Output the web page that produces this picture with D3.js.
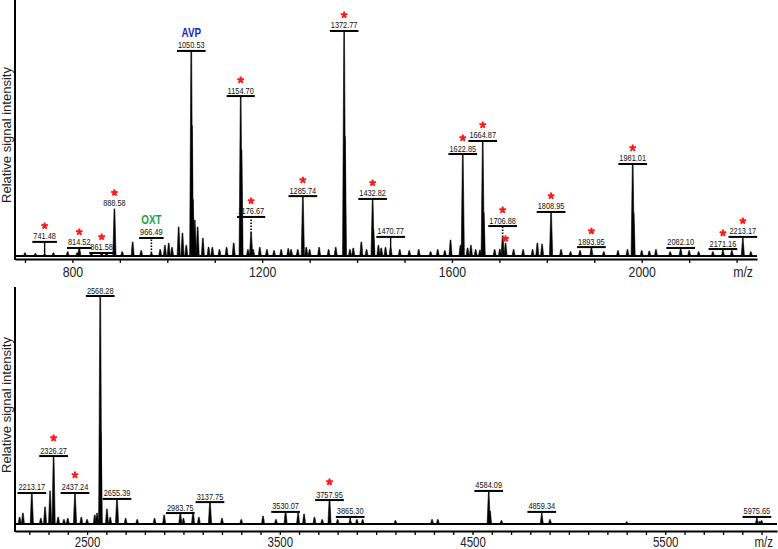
<!DOCTYPE html>
<html>
<head>
<meta charset="utf-8">
<script src="https://cdn.jsdelivr.net/npm/d3@7"></script>
<style>
  body { margin: 0; background: #fff; }
  svg { display: block; }
  text { font-family: "Liberation Sans", Arial, sans-serif; }
</style>
</head>
<body>
<div id="chart"></div>
<script>
// ---- top spectrum (m/z 700-2200) ----
const topLabelText = ['741.48', '814.52', '861.58', '888.58', '966.49', '1050.53', '1154.70', '1176.67',
  '1285.74', '1372.77', '1432.82', '1470.77', '1622.85', '1664.87', '1706.88', '1808.95',
  '1893.95', '1981.01', '2082.10', '2171.16', '2213.17'];
const topLabelPeak = [1, 3.7, 1.4, 21.2, 1.4, 94.5, 72.4, 10.6, 26.7, 100, 25.3, 4.1, 46, 50.7, 8.8, 19.8,
  3.7, 42, 3.2, 2.3, 7.4];
const topLabelLevel = [6.5, 3.7, 1.4, 21.8, 8.3, 94.5, 73.7, 18, 27.6, 103.7, 26.3, 8.8, 47, 53, 13.8, 20.3,
  4.1, 42.4, 3.7, 3.2, 8.8];
const topStarred = ['741.48', '814.52', '861.58', '888.58', '1154.70', '1176.67', '1285.74', '1372.77',
  '1432.82', '1622.85', '1664.87', '1706.88', '1808.95', '1893.95', '1981.01', '2171.16', '2213.17'];
const topDotted = ['966.49', '1176.67', '1706.88'];
const topNoBar = ['888.58'];
const topLoneStarMz = [1713];
const topLoneStarLevel = [8];
const topNames = ['AVP', 'OXT'];
const topNameMz = ['1050.53', '966.49'];
const topNameColor = ['#1c1cc9', '#17a34a'];
const topMinorMz = [700, 722, 760, 790, 810, 840, 872, 905, 927, 945, 985, 995, 1003, 1010, 1024, 1032,
  1040, 1052, 1054, 1058, 1064, 1075, 1087, 1095, 1110, 1125, 1140, 1156.5, 1170, 1181, 1195, 1210, 1225,
  1240, 1255, 1261, 1275, 1293, 1300, 1320, 1340, 1355, 1374.5, 1385, 1392, 1409, 1420, 1434.5, 1445, 1451,
  1460, 1490, 1510, 1530, 1555, 1570, 1585, 1597, 1618, 1633, 1640, 1650, 1659, 1667, 1690, 1701, 1713,
  1730, 1750, 1770, 1780, 1790, 1830, 1850, 1870, 1920, 1950, 1970, 1983, 2000, 2016, 2030, 2060, 2100,
  2120, 2150, 2190, 2230];
const topMinorIntensity = [1.5, 1.2, 1.5, 2, 1.5, 1.5, 1.5, 2, 6.5, 2.5, 3, 5, 6, 4, 13.4, 10.6,
  5, 60, 26, 16.6, 13.4, 8.3, 4.1, 4, 3, 4, 6, 49, 3, 3, 4, 3, 2.5,
  3, 3.5, 3, 3, 4, 3, 4, 3, 4, 55, 3, 3.7, 6.5, 3, 12, 5, 3.7,
  4, 3, 2.5, 3, 2, 3, 2.5, 7.4, 5, 3.7, 5, 3, 2.8, 20, 3, 3.2, 6,
  3, 3, 3, 6, 5.5, 3, 2, 2.5, 2, 2.5, 3, 20, 2.5, 2.3, 3, 2, 2.5,
  2, 2, 2.5, 2];
const topTickLabels = [800, 1200, 1600, 2000];

// ---- bottom spectrum (m/z 2200-6000) ----
const botLabelText = ['2213.17', '2326.27', '2437.24', '2568.28', '2655.39', '2983.75', '3137.75',
  '3530.07', '3757.95', '3865.30', '4584.09', '4859.34', '5975.65'];
const botLabelPeak = [13.2, 29.5, 13, 100, 11, 4.5, 9.6, 5.3, 10.5, 1.8, 13.2, 4, 2.2];
const botLabelLevel = [13.6, 29.8, 13.6, 100, 11, 4.8, 9.6, 5.3, 10.5, 3.1, 14.5, 5.3, 3.1];
const botStarred = ['2326.27', '2437.24', '3757.95'];
const botMinorMz = [2150, 2167, 2260, 2282, 2308, 2350, 2380, 2400, 2470, 2500, 2540, 2552, 2571, 2603,
  2620, 2700, 2760, 2850, 2900, 3000, 3050, 3080, 3200, 3300, 3413, 3480, 3595, 3626, 3680, 3720, 3800,
  3900, 3930, 4100, 4290, 4320, 4591, 4650, 4902, 5300, 5990, 6000];
const botMinorIntensity = [3, 4.8, 2.5, 7.5, 14.5, 3, 2, 2.5, 3, 2, 4, 4.8, 40, 6.6,
  3, 2.5, 2, 2.5, 4, 2.5, 5.3, 3, 2.5, 2, 3.5, 2, 4.8, 4.4, 3, 2, 2,
  2, 2, 1.5, 2, 2, 5.7, 1.5, 2, 1, 1.2, 1.5];
const botTickLabels = [2500, 3500, 4500, 5500];

const WIDTH = 778;
const HEIGHT = 549;
const NARROW = 0.82; // the figure uses a narrow face

const svg = d3.select('#chart')
  .append('svg')
  .attr('width', WIDTH)
  .attr('height', HEIGHT);

// squeeze a text horizontally, returns the new width
function narrow(node) {
  const w = node.getComputedTextLength() * NARROW;
  d3.select(node).attr('textLength', w).attr('lengthAdjust', 'spacingAndGlyphs');
  return w;
}

// five armed asterisk, drawn with a stroke
const asterisk5 = {
  draw(ctx, size) {
    const r = Math.sqrt(size);
    for (let k = 0; k < 5; k++) {
      const a = -Math.PI / 2 + k * 2 * Math.PI / 5;
      ctx.moveTo(0, 0);
      ctx.lineTo(r * Math.cos(a), r * Math.sin(a));
    }
  }
};

function drawPanel(p) {
  const g = svg.append('g');
  const x = p.x, y = p.y;
  const base = y(0);

  // baseline trace
  g.append('line')
    .attr('x1', x.range()[0]).attr('x2', x.range()[1])
    .attr('y1', base).attr('y2', base)
    .attr('stroke', '#000').attr('stroke-width', 2.2);

  const peakPath = (mz, v) => {
    const px = x(mz), top = y(v);
    return `M${px - 1.6},${base}L${px - 0.4},${top}L${px + 0.4},${top}L${px + 1.6},${base}Z`;
  };

  // minor peaks
  g.selectAll('path.minor')
    .data(p.minorMz.map((m, i) => [m, p.minorInt[i]]))
    .enter().append('path')
    .attr('class', 'minor')
    .attr('d', d => peakPath(d[0], d[1]))
    .attr('fill', '#000').attr('stroke', '#000').attr('stroke-width', 0.5);

  const labels = p.labelText.map((t, i) => ({ t, mz: +t, peak: p.labelPeak[i], level: p.labelLevel[i] }));

  // labelled peaks
  g.selectAll('path.major')
    .data(labels)
    .enter().append('path')
    .attr('class', 'major')
    .attr('d', d => peakPath(d.mz, d.peak))
    .attr('fill', '#000').attr('stroke', '#000').attr('stroke-width', 0.6);

  // leaders from peak top to label bar
  g.selectAll('line.leader')
    .data(labels.filter(d => y(d.peak) - y(d.level) > 1))
    .enter().append('line')
    .attr('class', 'leader')
    .attr('x1', d => x(d.mz)).attr('x2', d => x(d.mz))
    .attr('y1', d => y(d.peak)).attr('y2', d => y(d.level))
    .attr('stroke', '#000')
    .attr('stroke-width', d => p.dotted.includes(d.t) ? 1.6 : 1.4)
    .attr('stroke-dasharray', d => p.dotted.includes(d.t) ? '1.5,1.5' : null);

  // label text
  const txt = g.selectAll('text.lbl')
    .data(labels)
    .enter().append('text')
    .attr('class', 'lbl')
    .attr('x', d => x(d.mz))
    .attr('y', d => y(d.level) - 2.5)
    .attr('text-anchor', 'middle')
    .attr('font-size', 9)
    .attr('fill', '#111')
    .text(d => d.t);

  // bars under labels
  txt.each(function (d) {
    const w = narrow(this);
    if (p.noBar.includes(d.t)) return;
    g.append('rect')
      .attr('x', x(d.mz) - w / 2 - 1)
      .attr('y', y(d.level) - 1)
      .attr('width', w + 2)
      .attr('height', 2)
      .attr('fill', '#000');
  });

  // red stars
  const stars = labels.filter(d => p.starred.includes(d.t)).map(d => [d.mz, y(d.level) - p.starGap]);
  p.loneStarMz.forEach((m, i) => stars.push([m, y(p.loneStarLevel[i])]));
  g.selectAll('path.star')
    .data(stars)
    .enter().append('path')
    .attr('class', 'star')
    .attr('transform', d => `translate(${x(d[0])},${d[1]})`)
    .attr('d', d3.symbol(asterisk5, 12)())
    .attr('fill', 'none')
    .attr('stroke', '#ff1a1a')
    .attr('stroke-width', 2);

  // peptide names
  p.names.forEach((n, i) => {
    const d = labels.find(l => l.t === p.nameMz[i]);
    g.append('text')
      .attr('x', x(d.mz))
      .attr('y', y(d.level) - 14)
      .attr('text-anchor', 'middle')
      .attr('font-size', 12)
      .attr('font-weight', 'bold')
      .attr('fill', p.nameColor[i])
      .text(n)
      .each(function () { narrow(this); });
  });

  // x axis
  const xAxisCall = d3.axisBottom(x)
    .tickValues(p.ticks)
    .tickSize(4)
    .tickSizeOuter(0)
    .tickPadding(p.tickPad)
    .tickFormat(d => p.tickLabels.includes(d) ? d : '');
  const ax = g.append('g')
    .attr('transform', `translate(0,${p.axisY})`)
    .call(xAxisCall);
  ax.attr('font-family', null).attr('font-size', null);
  ax.select('.domain').attr('stroke-width', 2);
  ax.selectAll('.tick line').attr('stroke-width', 1.3);
  ax.selectAll('.tick text')
    .attr('font-size', p.tickFont)
    .attr('fill', '#222')
    .each(function () { if (this.textContent) narrow(this); });

  g.append('text')
    .attr('x', x.range()[1] - 4)
    .attr('y', p.axisY + p.mzDy)
    .attr('text-anchor', 'end')
    .attr('font-size', p.tickFont)
    .attr('fill', '#222')
    .text('m/z')
    .each(function () { narrow(this); });

  // y axis line
  g.append('line')
    .attr('x1', x.range()[0]).attr('x2', x.range()[0])
    .attr('y1', p.yTop).attr('y2', p.axisY + 1)
    .attr('stroke', '#000').attr('stroke-width', 2);

  g.append('text')
    .attr('transform', `translate(11,${p.titleY}) rotate(-90)`)
    .attr('text-anchor', 'middle')
    .attr('font-size', 13)
    .attr('fill', '#222')
    .text('Relative signal intensity');
}

drawPanel({
  x: d3.scaleLinear().domain([679, 2243]).range([15, 757]),
  y: d3.scaleLinear().domain([0, 100]).range([256, 39]),
  axisY: 259, yTop: 0, titleY: 135,
  ticks: d3.range(700, 2201, 100), tickLabels: topTickLabels,
  tickFont: 15, tickPad: 3, mzDy: 18, starGap: 16,
  labelText: topLabelText, labelPeak: topLabelPeak, labelLevel: topLabelLevel,
  starred: topStarred, dotted: topDotted, noBar: topNoBar,
  loneStarMz: topLoneStarMz, loneStarLevel: topLoneStarLevel,
  names: topNames, nameMz: topNameMz, nameColor: topNameColor,
  minorMz: topMinorMz, minorInt: topMinorIntensity
});

drawPanel({
  x: d3.scaleLinear().domain([2126, 6080]).range([15, 777]),
  y: d3.scaleLinear().domain([0, 100]).range([524, 296]),
  axisY: 531, yTop: 287, titleY: 405,
  ticks: d3.range(2200, 6001, 100), tickLabels: botTickLabels,
  tickFont: 14, tickPad: 2, mzDy: 16, starGap: 18,
  labelText: botLabelText, labelPeak: botLabelPeak, labelLevel: botLabelLevel,
  starred: botStarred, dotted: [], noBar: [],
  loneStarMz: [], loneStarLevel: [],
  names: [], nameMz: [], nameColor: [],
  minorMz: botMinorMz, minorInt: botMinorIntensity
});
</script>
</body>
</html>
